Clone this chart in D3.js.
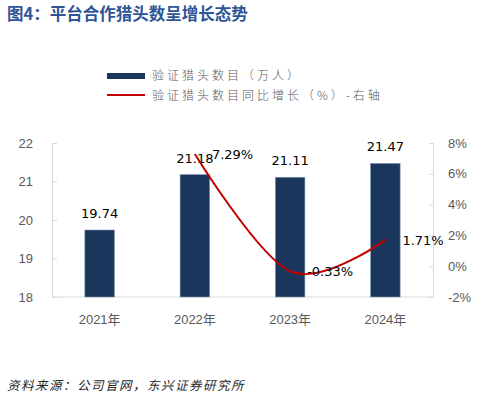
<!DOCTYPE html>
<html>
<head>
<meta charset="utf-8">
<script src="https://cdn.jsdelivr.net/npm/d3@7"></script>
<style>
  body { margin: 0; background: #fff; }
  svg { display: block; }
</style>
</head>
<body>
<div class="chart"></div>
<script>
// chart data
var years = ['2021年', '2022年', '2023年', '2024年'];
var headcount = [19.74, 21.18, 21.11, 21.47];
var growthYears = ['2022年', '2023年', '2024年'];
var growth = [7.29, -0.33, 1.71];
var leftTicks = [18, 19, 20, 21, 22];
var rightTicks = [-2, 0, 2, 4, 6, 8];

var w = 492
  , h = 399
  , plotLeft = 52
  , plotRight = 433
  , plotTop = 143
  , plotBottom = 297
  , navy = '#1b365d'
  , red = '#c00000'
  , grey = '#595959'
  , axisGrey = '#d9d9d9'
  , numFont = '"Liberation Sans", Arial, sans-serif'
  , labelFont = '"DejaVu Sans", sans-serif'
  , cjkFont = '"Noto Sans CJK SC", sans-serif';

var svg = d3.select('.chart')
            .append('svg')
            .attr('width', w)
            .attr('height', h);

// title
svg.append('text')
    .attr('x', 7)
    .attr('y', 20)
    .attr('fill', '#2f5597')
    .style('font-family', cjkFont)
    .style('font-weight', 'bold')
    .style('font-size', '16.5px')
    .text('图4：平台合作猎头数呈增长态势');

// legend
var legend = svg.append('g');
legend.append('rect')
    .attr('x', 107).attr('y', 73)
    .attr('width', 38).attr('height', 6)
    .attr('fill', navy);
legend.append('line')
    .attr('x1', 107).attr('x2', 145)
    .attr('y1', 95).attr('y2', 95)
    .attr('stroke', red).attr('stroke-width', 2);
legend.selectAll('text.leg')
    .data(['验证猎头数目（万人）', '验证猎头数目同比增长（%）-右轴'])
    .enter()
    .append('text')
    .attr('class', 'leg')
    .attr('x', 152)
    .attr('y', function (d, i) { return 80 + i * 20; })
    .attr('fill', grey)
    .style('font-family', cjkFont)
    .style('font-size', '12px')
    .style('font-weight', '300')
    .style('letter-spacing', '3px')
    .text(function (d) { return d; });

// scales
var x = d3.scaleBand()
          .domain(years)
          .range([plotLeft, plotRight])
          .paddingInner(0.69)
          .paddingOuter(0.345);

var yL = d3.scaleLinear().domain([18, 22]).range([plotBottom, plotTop]);
var yR = d3.scaleLinear().domain([-2, 8]).range([plotBottom, plotTop]);

// axes
var styleAxis = function (g) {
  g.select('.domain').attr('stroke', axisGrey);
  g.selectAll('.tick line').attr('stroke', axisGrey);
  g.selectAll('.tick text')
    .attr('fill', grey)
    .style('font-family', numFont)
    .style('font-size', '13px');
};

svg.append('g')
    .attr('transform', 'translate(' + plotLeft + ',0)')
    .call(d3.axisRight(yL).tickValues(leftTicks).tickFormat(d3.format('d'))
      .tickSize(5).tickSizeOuter(0).tickPadding(-24))
    .call(styleAxis)
    .call(function (g) { g.selectAll('.tick text').attr('text-anchor', 'end'); });

svg.append('g')
    .attr('transform', 'translate(' + plotRight + ',0)')
    .call(d3.axisLeft(yR).tickValues(rightTicks).tickSize(4).tickSizeOuter(0)
      .tickFormat(function (d) { return d + '%'; }).tickPadding(-19))
    .call(styleAxis)
    .call(function (g) { g.selectAll('.tick text').attr('text-anchor', 'start'); });

svg.append('g')
    .attr('transform', 'translate(0,' + plotBottom + ')')
    .call(d3.axisBottom(x).tickSize(0).tickPadding(18))
    .call(styleAxis)
    .call(function (g) {
      g.select('.domain').attr('d', 'M' + plotLeft + ',0H' + plotRight);
      g.selectAll('.tick text').style('font-family', numFont + ', ' + cjkFont);
    });

// bars
svg.selectAll('rect.bar')
    .data(headcount)
    .enter()
    .append('rect')
    .attr('class', 'bar')
    .attr('x', function (d, i) { return x(years[i]); })
    .attr('y', function (d) { return yL(d); })
    .attr('width', x.bandwidth())
    .attr('height', function (d) { return plotBottom - yL(d); })
    .attr('fill', navy)
    .attr('stroke', '#7f93ad')
    .attr('stroke-width', 0.6);

svg.selectAll('text.barLabel')
    .data(headcount)
    .enter()
    .append('text')
    .attr('class', 'barLabel')
    .attr('x', function (d, i) { return x(years[i]) + x.bandwidth() / 2; })
    .attr('y', function (d) { return yL(d) - 12; })
    .attr('text-anchor', 'middle')
    .attr('fill', '#000')
    .style('font-family', labelFont)
    .style('font-size', '13px')
    .text(function (d) { return d.toFixed(2); });

// growth line
var cx = function (d, i) { return x(growthYears[i]) + x.bandwidth() / 2; };

var line = d3.line()
             .x(cx)
             .y(function (d) { return yR(d); })
             .curve(d3.curveCardinal.tension(0));

svg.append('path')
    .datum(growth)
    .attr('d', line)
    .attr('fill', 'none')
    .attr('stroke', red)
    .attr('stroke-width', 2);

svg.selectAll('text.lineLabel')
    .data(growth)
    .enter()
    .append('text')
    .attr('class', 'lineLabel')
    .attr('x', function (d, i) { return cx(d, i) + 17; })
    .attr('y', function (d) { return yR(d) + 5; })
    .attr('fill', '#000')
    .style('font-family', labelFont)
    .style('font-size', '13px')
    .text(function (d) { return d.toFixed(2) + '%'; });

// source note
svg.append('text')
    .attr('x', 7)
    .attr('y', 390)
    .attr('fill', '#262626')
    .style('font-family', cjkFont)
    .style('font-size', '12.5px')
    .style('font-style', 'italic')
    .style('letter-spacing', '1.5px')
    .text('资料来源：公司官网，东兴证券研究所');
</script>
</body>
</html>
